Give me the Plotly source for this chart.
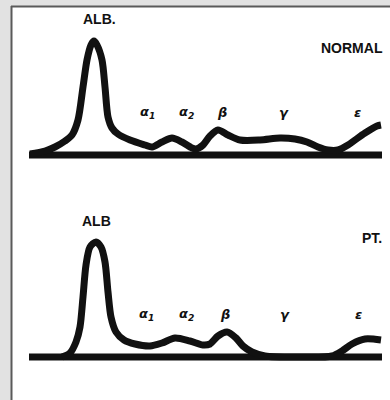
import plotly.graph_objects as go

# Mobility positions (left = anode side) and densitometer heights above baseline
normal_x = [30, 45, 55, 65, 72, 78, 83, 87, 91, 94, 97, 102, 105, 108, 112, 118, 130, 145, 152,
            162, 172, 182, 192, 196, 203, 210, 218, 228, 240, 260, 280, 295, 307, 318, 328, 338,
            348, 355, 365, 377, 381]
normal_h = [1, 4, 8, 14, 20, 35, 68, 95, 110, 114, 110, 95, 68, 38, 27, 21, 15, 10, 8,
            13, 17, 13, 7, 6, 10, 19, 25, 20, 15, 15, 17, 16, 13, 8, 5, 5,
            10, 15, 22, 29, 30]

patient_x = [62, 70, 76, 80, 83, 86, 90, 96, 101, 105, 108, 111, 116, 124, 135, 150, 162, 175,
             190, 203, 210, 218, 227, 236, 243, 252, 265, 300, 332, 342, 352, 365, 381]
patient_h = [0, 4, 15, 30, 60, 92, 110, 115, 110, 95, 65, 40, 25, 17, 13, 11, 14, 19,
             16, 12, 13, 21, 25, 19, 11, 5, 1, 0, 1, 6, 13, 18, 17]

baseline_x = [29, 382]
baseline_h = [0, 0]

fraction_labels = ["α<sub>1</sub>", "α<sub>2</sub>", "β", "γ", "ε"]
normal_label_x = [147, 186, 222, 284, 357]
patient_label_x = [146, 186, 225, 285, 358]
label_h = 43

ink = "#111111"
fig = go.Figure()

fig.add_trace(go.Scatter(x=baseline_x, y=baseline_h, mode="lines",
                         line=dict(color=ink, width=7), yaxis="y", hoverinfo="skip"))
fig.add_trace(go.Scatter(x=normal_x, y=normal_h, mode="lines",
                         line=dict(color=ink, width=7, shape="spline", smoothing=0.8),
                         yaxis="y", hoverinfo="skip"))
fig.add_trace(go.Scatter(x=baseline_x, y=baseline_h, mode="lines",
                         line=dict(color=ink, width=7), yaxis="y2", hoverinfo="skip"))
fig.add_trace(go.Scatter(x=patient_x, y=patient_h, mode="lines",
                         line=dict(color=ink, width=7, shape="spline", smoothing=0.8),
                         yaxis="y2", hoverinfo="skip"))

greek_font = dict(family="DejaVu Sans", size=13, color=ink, style="italic", weight="bold")
for lx, t in zip(normal_label_x, fraction_labels):
    fig.add_annotation(x=lx, y=label_h, xref="x", yref="y", text=t, showarrow=False,
                       font=greek_font)
for lx, t in zip(patient_label_x, fraction_labels):
    fig.add_annotation(x=lx, y=label_h, xref="x", yref="y2", text=t, showarrow=False,
                       font=greek_font)

cap_font = dict(family="Liberation Sans", size=14, color=ink, weight="bold")
fig.add_annotation(x=99, y=136, xref="x", yref="y", text="ALB.", showarrow=False, font=cap_font)
fig.add_annotation(x=352, y=107, xref="x", yref="y", text="NORMAL", showarrow=False, font=cap_font)
fig.add_annotation(x=96, y=136, xref="x", yref="y2", text="ALB", showarrow=False, font=cap_font)
fig.add_annotation(x=372, y=119, xref="x", yref="y2", text="PT.", showarrow=False, font=cap_font)

# page frame (scanned-figure border)
fig.add_shape(type="rect", xref="paper", yref="paper", x0=0, x1=1, y0=1 - 6 / 400, y1=1,
              fillcolor="#e2e2e2", line_width=0, layer="below")
fig.add_shape(type="rect", xref="paper", yref="paper", x0=0, x1=11 / 390, y0=0, y1=1,
              fillcolor="#e2e2e2", line_width=0, layer="below")
fig.add_shape(type="line", xref="paper", yref="paper", x0=11 / 390, x1=1,
              y0=1 - 6.5 / 400, y1=1 - 6.5 / 400, line=dict(color="#5a5a5a", width=2))
fig.add_shape(type="line", xref="paper", yref="paper", x0=11.5 / 390, x1=11.5 / 390,
              y0=0, y1=1 - 6 / 400, line=dict(color="#5a5a5a", width=2))

fig.update_layout(
    width=390, height=400, margin=dict(l=0, r=0, t=0, b=0),
    paper_bgcolor="white", plot_bgcolor="white", showlegend=False,
    xaxis=dict(range=[0, 390], visible=False, fixedrange=True),
    yaxis=dict(range=[-245, 155], visible=False, fixedrange=True),
    yaxis2=dict(range=[-43, 357], visible=False, overlaying="y", fixedrange=True),
)

fig.write_html("out.html")
